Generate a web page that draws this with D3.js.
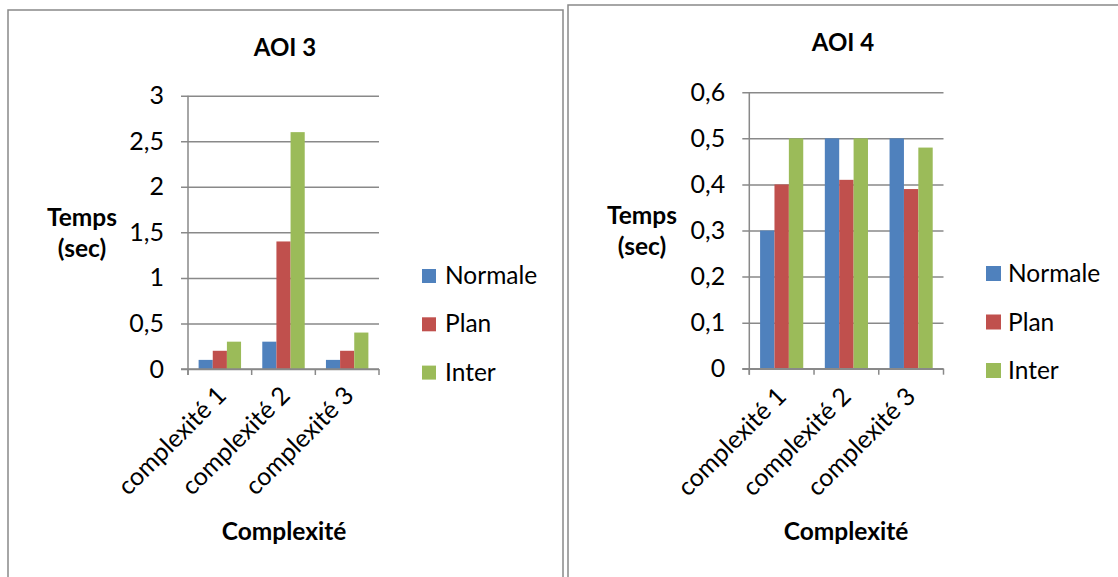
<!DOCTYPE html>
<html>
<head>
<meta charset="utf-8">
<script src="https://cdn.jsdelivr.net/npm/d3@7"></script>
<style>
  html, body { margin: 0; padding: 0; background: #fff; }
  svg { display: block; font-family: Lato, "Open Sans", sans-serif; }
</style>
</head>
<body>
<svg id="chart" width="1118" height="577"></svg>
<script>
// ---------- data ----------
const categories = ["complexité 1", "complexité 2", "complexité 3"];
const seriesNames = ["Normale", "Plan", "Inter"];
const seriesColors = ["#4F81BD", "#C0504D", "#9BBB59"];

const aoi3Normale = [0.1, 0.3, 0.1];
const aoi3Plan    = [0.2, 1.4, 0.2];
const aoi3Inter   = [0.3, 2.6, 0.4];
const aoi3Ticks   = [0, 0.5, 1, 1.5, 2, 2.5, 3];

const aoi4Normale = [0.3, 0.5, 0.5];
const aoi4Plan    = [0.4, 0.41, 0.39];
const aoi4Inter   = [0.5, 0.5, 0.48];
const aoi4Ticks   = [0, 0.1, 0.2, 0.3, 0.4, 0.5, 0.6];

const titles = ["AOI 3", "AOI 4"];
const yTitleLines = ["Temps", "(sec)"];
const xTitle = "Complexité";

// ---------- layout ----------
const svg = d3.select("#chart");
const gridColor = "#898989";

const charts = [
  {
    title: titles[0], series: [aoi3Normale, aoi3Plan, aoi3Inter], ticks: aoi3Ticks,
    frame: {x: 8, y: 10, w: 555, h: 600},
    plot: {left: 188, right: 379, top: 95.7, bottom: 369},
    titleX: 285, titleY: 56,
    yTitleX: 82, yTitleY: [226, 257],
    xTitleX: 284, xTitleY: 540,
    labelDx: 8, labelY: 397,
    legend: {x: 422, y: 269, size: 14, gap: 48.3, textX: 445}
  },
  {
    title: titles[1], series: [aoi4Normale, aoi4Plan, aoi4Inter], ticks: aoi4Ticks,
    frame: {x: 568, y: 5, w: 600, h: 600},
    plot: {left: 749.3, right: 943.5, top: 92.3, bottom: 368.7},
    titleX: 843, titleY: 51,
    yTitleX: 642, yTitleY: [224, 255],
    xTitleX: 846, xTitleY: 540,
    labelDx: 6, labelY: 398,
    legend: {x: 986, y: 266, size: 15, gap: 48.5, textX: 1008}
  }
];

const fmt = d => String(d).replace(".", ",");

charts.forEach(c => {
  // frame
  svg.append("rect")
    .attr("x", c.frame.x).attr("y", c.frame.y)
    .attr("width", c.frame.w).attr("height", c.frame.h)
    .attr("fill", "none").attr("stroke", gridColor).attr("stroke-width", 1.5);

  const p = c.plot;
  const y = d3.scaleLinear()
    .domain([0, d3.max(c.ticks)])
    .range([p.bottom, p.top]);
  const x0 = d3.scaleBand()
    .domain(categories)
    .range([p.left, p.right])
    .paddingInner(1/3).paddingOuter(1/6);
  const x1 = d3.scaleBand()
    .domain(seriesNames)
    .range([0, x0.bandwidth()]);

  // gridlines + y axis ticks
  const yAxis = d3.axisLeft(y)
    .tickValues(c.ticks)
    .tickFormat(fmt)
    .tickSize(-(p.right - p.left))
    .tickSizeOuter(0)
    .tickPadding(24);
  const gy = svg.append("g")
    .attr("transform", `translate(${p.left},0)`)
    .call(yAxis);
  gy.select(".domain").remove();
  gy.selectAll(".tick line")
    .attr("x1", -7)
    .attr("stroke", gridColor).attr("stroke-width", 1.5);
  gy.selectAll(".tick text")
    .attr("font-size", 25).attr("fill", "#000")
    .attr("font-family", "Lato, sans-serif");

  // bars
  const rows = categories.map((cat, i) => ({cat, vals: c.series.map(s => s[i])}));
  const groups = svg.append("g").selectAll("g")
    .data(rows).join("g")
    .attr("transform", d => `translate(${x0(d.cat)},0)`);
  groups.selectAll("rect")
    .data(d => d.vals.map((v, k) => ({name: seriesNames[k], v, k})))
    .join("rect")
    .attr("x", d => x1(d.name))
    .attr("width", x1.bandwidth())
    .attr("y", d => y(d.v))
    .attr("height", d => y(0) - y(d.v))
    .attr("fill", d => seriesColors[d.k]);

  // y axis line
  svg.append("line")
    .attr("x1", p.left).attr("x2", p.left)
    .attr("y1", p.top).attr("y2", p.bottom + 6)
    .attr("stroke", gridColor).attr("stroke-width", 1.5);

  // x axis with boundary ticks
  const boundaries = categories.map(cat => x0(cat) - x0.step() * x0.paddingInner() / 2)
    .concat([p.right]);
  svg.append("line")
    .attr("x1", p.left - 7).attr("x2", p.right)
    .attr("y1", p.bottom).attr("y2", p.bottom)
    .attr("stroke", gridColor).attr("stroke-width", 1.5);
  svg.append("g").selectAll("line")
    .data(boundaries).join("line")
    .attr("x1", d => d).attr("x2", d => d)
    .attr("y1", p.bottom).attr("y2", p.bottom + 6)
    .attr("stroke", gridColor).attr("stroke-width", 1.5);

  // x category labels (rotated)
  svg.append("g").selectAll("text")
    .data(categories).join("text")
    .attr("transform", d => `translate(${x0(d) + x0.bandwidth() / 2 + c.labelDx},${c.labelY}) rotate(-45)`)
    .attr("text-anchor", "end")
    .attr("font-size", 25)
    .attr("fill", "#000")
    .text(d => d);

  // title
  svg.append("text")
    .attr("x", c.titleX).attr("y", c.titleY)
    .attr("text-anchor", "middle")
    .attr("font-weight", "bold").attr("font-size", 24)
    .text(c.title);

  // y title
  yTitleLines.forEach((t, i) => {
    svg.append("text")
      .attr("x", c.yTitleX).attr("y", c.yTitleY[i])
      .attr("text-anchor", "middle")
      .attr("font-weight", "bold").attr("font-size", 24.5)
      .text(t);
  });

  // x title
  svg.append("text")
    .attr("x", c.xTitleX).attr("y", c.xTitleY)
    .attr("text-anchor", "middle")
    .attr("font-weight", "bold").attr("font-size", 24.5)
    .text(xTitle);

  // legend
  const lg = c.legend;
  const items = svg.append("g").selectAll("g")
    .data(seriesNames).join("g")
    .attr("transform", (d, i) => `translate(0,${lg.y + i * lg.gap})`);
  items.append("rect")
    .attr("x", lg.x).attr("y", 0)
    .attr("width", lg.size).attr("height", lg.size)
    .attr("fill", (d, i) => seriesColors[i]);
  items.append("text")
    .attr("x", lg.textX).attr("y", lg.size + 1)
    .attr("font-size", 24.5).attr("fill", "#000")
    .text(d => d);
});
</script>
</body>
</html>
